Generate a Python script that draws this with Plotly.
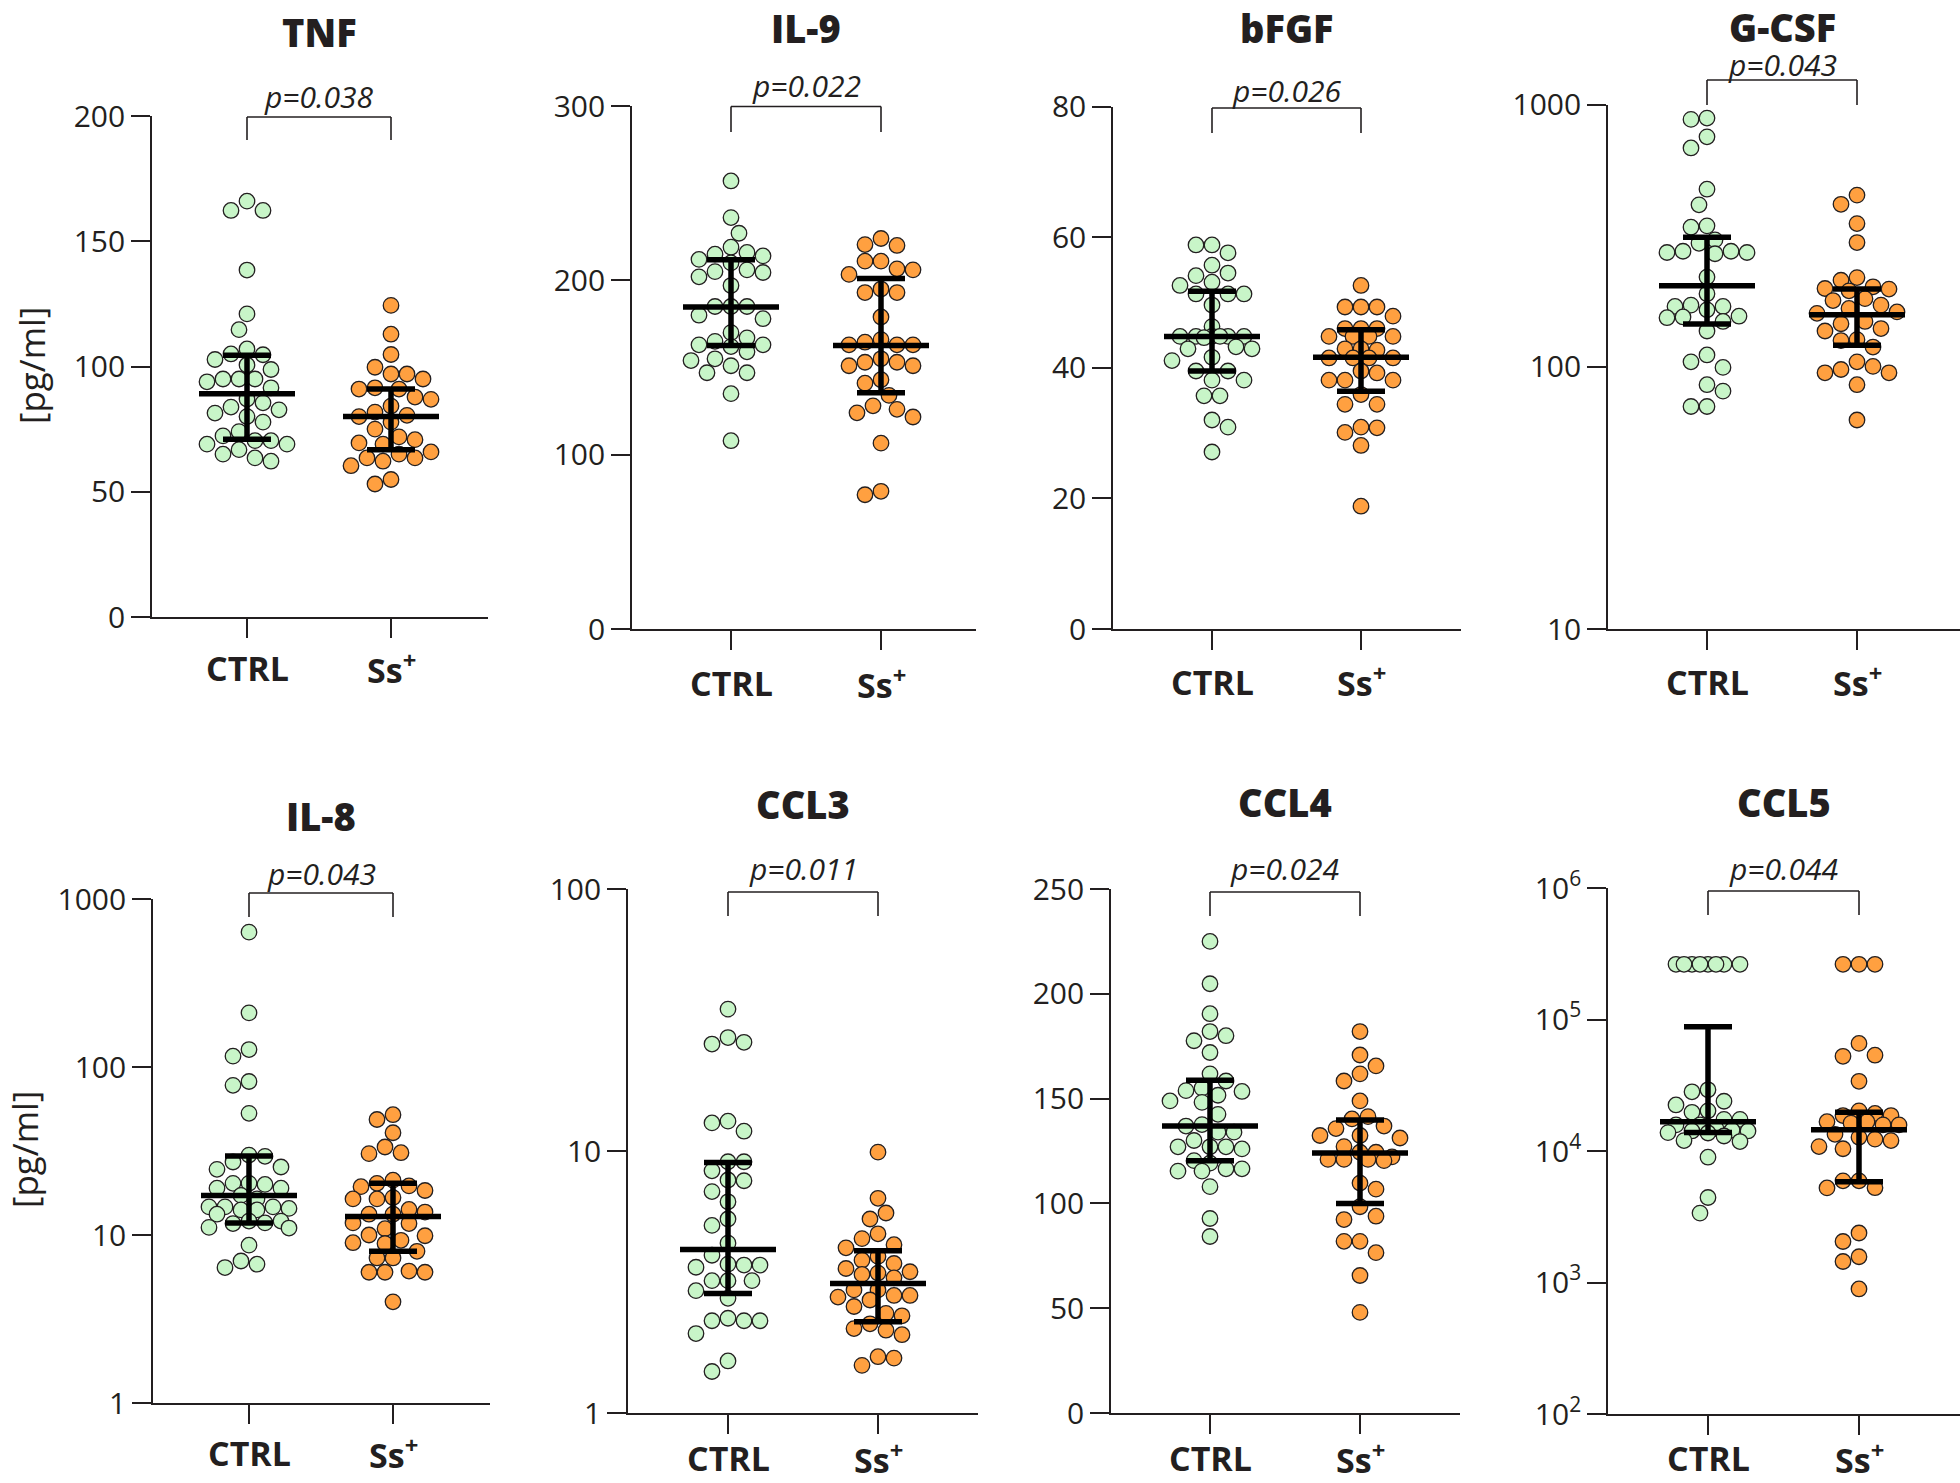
import numpy as np
import plotly.graph_objects as go

# ---------------- data ----------------
GROUPS = ["CTRL", "Ss<sup>+</sup>"]

TNF_CTRL = [166, 162.3, 162.3, 138.5, 121, 114.7, 107, 104.7, 102.8, 105, 100.6, 98.8, 95, 95, 95, 93.9,
            91.5, 87, 85.5, 83.8, 82.7, 81.4, 80, 77.8, 74, 72.3, 70.4, 69, 70.4, 69, 66.8, 65, 63.5, 62.2]
TNF_SS = [124.4, 112.9, 104.8, 99.7, 97, 97, 95, 91.5, 91, 91, 87.8, 86.9, 84.2, 81.8, 80.5, 80, 77.8, 75,
          71.9, 70.8, 69.5, 69, 65.9, 65, 63.5, 63.5, 62.2, 60.4, 54.9, 53.1]
TNF_MED, TNF_Q1, TNF_Q3 = [89.1, 80], [71, 66.8], [104.5, 91]

IL9_CTRL = [257, 236, 227, 219, 216, 214, 215, 212, 210, 206, 205, 204.5, 202, 197, 185, 185, 185, 180, 178,
            170, 167, 165, 163, 163, 162, 159, 155, 154, 151, 147, 147, 135, 108]
IL9_SS = [224, 220.5, 220, 211, 211, 206.6, 206, 203.4, 195, 193, 193, 179, 166, 164.5, 163, 163, 163, 155,
          153, 153, 151, 151, 143, 141, 134, 128, 126, 124, 121.6, 106.6, 79, 77]
IL9_MED, IL9_Q1, IL9_Q3 = [184.7, 162.6], [162.6, 135.5], [211.8, 201]

BFGF_CTRL = [58.8, 58.8, 57.6, 55.7, 54.5, 54.1, 53.1, 52.6, 51.3, 51.3, 51.3, 49.6, 46.3, 44.8, 44.8, 44.8,
             44.8, 44.8, 44.8, 44.6, 43.2, 42.9, 42.9, 41.6, 41.1, 39.5, 39.5, 38.1, 38.1, 35.7, 35.7, 32,
             30.9, 27.1]
BFGF_SS = [52.6, 49.3, 49.3, 49.3, 47.9, 46, 46, 46, 44.8, 44.8, 44.8, 44.8, 42.9, 42.9, 42.7, 41.5, 41.5,
           41.5, 41.5, 39.5, 39.2, 38.1, 38.1, 38.1, 35.9, 34.4, 34.4, 30.9, 30.8, 30.1, 28.1, 18.8]
BFGF_MED, BFGF_Q1, BFGF_Q3 = [44.8, 41.6], [39.5, 36.4], [51.7, 45.8]

GCSF_CTRL = [889, 879, 754, 684, 476, 415, 345, 341, 305, 296, 276, 273, 273, 270, 276, 220, 190, 172, 170,
             170, 165, 156, 155, 154, 149, 137, 111, 104.5, 99.5, 85.5, 80.8, 70.6, 70.6]
GCSF_SS = [452, 417, 352, 298, 219, 214, 202, 199, 198, 195, 182, 179, 172, 167, 162, 160, 149, 146, 140,
           137, 127, 126, 119, 104.5, 100.4, 97.7, 94.9, 94.9, 85.5, 62.7]
GCSF_MED, GCSF_Q1, GCSF_Q3 = [204, 158], [145.6, 121], [312, 198]

IL8_CTRL = [635, 210, 127, 116, 82, 77.8, 53, 29.9, 29.4, 27.2, 25.4, 24.6, 20.3, 20.3, 20, 19, 19, 17.2,
            16.4, 14.7, 14.7, 14.4, 14.1, 14.1, 14.7, 13.3, 12.1, 12.1, 11.8, 11.7, 11.1, 11, 8.7, 7.0, 6.7, 6.4]
IL8_SS = [52, 48.7, 40.6, 33.4, 30.9, 30.5, 21.2, 20.3, 19.6, 19.4, 18.4, 16.7, 16.4, 16.4, 14.2, 13.7, 13.3,
          13.3, 11.8, 11.7, 10.9, 10.0, 9.9, 9.3, 9.0, 8.9, 8.0, 7.3, 7.3, 6.1, 6.0, 6.0, 6.0, 4.0]
IL8_MED, IL8_Q1, IL8_Q3 = [17.2, 12.9], [11.8, 8.0], [29.5, 20.3]

CCL3_CTRL = [34.8, 27.1, 25.6, 26, 12.8, 13.0, 11.9, 9.1, 9.1, 8.4, 7.7, 7.75, 7.0, 6.4, 5.5, 5.2, 4.45, 4.0,
             3.67, 3.67, 3.7, 3.6, 3.2, 3.2, 3.2, 2.93, 2.74, 2.25, 2.3, 2.25, 2.25, 2.01, 1.58, 1.44]
CCL3_SS = [9.9, 6.6, 5.8, 5.5, 4.83, 4.63, 4.39, 4.27, 3.96, 3.83, 3.72, 3.56, 3.46, 3.42, 3.38, 3.28, 2.95,
           2.95, 2.81, 2.81, 2.77, 2.70, 2.55, 2.35, 2.40, 2.19, 2.10, 2.07, 1.99, 1.64, 1.62, 1.52]
CCL3_MED, CCL3_Q1, CCL3_Q3 = [4.21, 3.12], [2.86, 2.23], [9.03, 4.16]

CCL4_CTRL = [225, 204.8, 190.5, 182, 177.6, 180, 172, 161.8, 158.4, 155, 153.4, 153.8, 151.6, 148.9, 148.2,
             142.5, 137.6, 136.9, 134, 134, 130, 127, 127, 127, 126, 120.4, 119.2, 116.5, 116.5, 115.4, 115.4,
             108, 92.8, 84.2]
CCL4_SS = [182, 170.8, 165.6, 161.8, 158.4, 148.9, 141.4, 140.3, 136.9, 135.7, 132.4, 131.2, 132.4, 127.1,
           124.4, 124.4, 122.2, 121, 120.4, 121, 121, 109.7, 106.8, 98.4, 93.9, 92.3, 81.9, 81.9, 76.5, 65.6, 48]
CCL4_MED, CCL4_Q1, CCL4_Q3 = [136.9, 124], [120.4, 100], [158.8, 139.8]

CCL5_CTRL = [263000, 263000, 263000, 263000, 263000, 263000, 263000, 263000, 29200, 28200, 23900, 22400,
             20200, 19700, 17400, 17400, 15800, 15800, 14800, 14200, 14200, 13800, 14400, 13700, 13000, 12000,
             11800, 8970, 4430, 3370]
CCL5_SS = [263000, 263000, 263000, 65800, 53500, 52500, 33900, 20200, 18600, 18600, 19300, 16700, 16700,
           16300, 15800, 15800, 13400, 12700, 12300, 12000, 10800, 10400, 5930, 5930, 5240, 5260, 2380, 2050,
           1570, 1445, 893]
CCL5_MED, CCL5_Q1, CCL5_Q3 = [16700, 14500], [13800, 5840], [87900, 19700]

P_TEXT = ["p=0.038", "p=0.022", "p=0.026", "p=0.043", "p=0.043", "p=0.011", "p=0.024", "p=0.044"]
TITLES = ["TNF", "IL-9", "bFGF", "G-CSF", "IL-8", "CCL3", "CCL4", "CCL5"]

# ---------------- styling / layout (pixels of the 1960x1483 page) ----------------
W, H = 1960, 1483
GREEN, ORANGE, INK = "#c8f5c8", "#ffa040", "#231f20"
FONT = "Open Sans"
DOT = 15.5
MED_HALF, CAP_HALF = 48, 24

panels = [
    dict(ctrl=TNF_CTRL, ss=TNF_SS, med=TNF_MED, q1=TNF_Q1, q3=TNF_Q3, log=False, rng=(0, 200),
         tv=[0, 50, 100, 150, 200], tt=None,
         g=dict(x0=152, x1=488, yt=116, yb=617, cx=247, sx=391, ty=32, py=97, by=117, ly=140, lab=668)),
    dict(ctrl=IL9_CTRL, ss=IL9_SS, med=IL9_MED, q1=IL9_Q1, q3=IL9_Q3, log=False, rng=(0, 300),
         tv=[0, 100, 200, 300], tt=None,
         g=dict(x0=632, x1=976, yt=106, yb=629, cx=731, sx=881, ty=28, py=86, by=106.5, ly=132, lab=683)),
    dict(ctrl=BFGF_CTRL, ss=BFGF_SS, med=BFGF_MED, q1=BFGF_Q1, q3=BFGF_Q3, log=False, rng=(0, 80),
         tv=[0, 20, 40, 60, 80], tt=None,
         g=dict(x0=1113, x1=1461, yt=106.5, yb=629, cx=1212, sx=1361, ty=28, py=90, by=108, ly=133, lab=682)),
    dict(ctrl=GCSF_CTRL, ss=GCSF_SS, med=GCSF_MED, q1=GCSF_Q1, q3=GCSF_Q3, log=True, rng=(1, 3),
         tv=[10, 100, 1000], tt=["10", "100", "1000"],
         g=dict(x0=1608, x1=1960, yt=104.7, yb=629, cx=1707, sx=1857, ty=27, py=65, by=80, ly=105, lab=682)),
    dict(ctrl=IL8_CTRL, ss=IL8_SS, med=IL8_MED, q1=IL8_Q1, q3=IL8_Q3, log=True, rng=(0, 3),
         tv=[1, 10, 100, 1000], tt=["1", "10", "100", "1000"],
         g=dict(x0=153, x1=490, yt=899, yb=1403, cx=249, sx=393, ty=816, py=873, by=893, ly=917, lab=1453)),
    dict(ctrl=CCL3_CTRL, ss=CCL3_SS, med=CCL3_MED, q1=CCL3_Q1, q3=CCL3_Q3, log=True, rng=(0, 2),
         tv=[1, 10, 100], tt=["1", "10", "100"],
         g=dict(x0=628, x1=978, yt=889, yb=1413, cx=728, sx=878, ty=804, py=868, by=892, ly=916, lab=1458)),
    dict(ctrl=CCL4_CTRL, ss=CCL4_SS, med=CCL4_MED, q1=CCL4_Q1, q3=CCL4_Q3, log=False, rng=(0, 250),
         tv=[0, 50, 100, 150, 200, 250], tt=None,
         g=dict(x0=1111, x1=1460, yt=889, yb=1413, cx=1210, sx=1360, ty=802, py=869, by=892, ly=916, lab=1458)),
    dict(ctrl=CCL5_CTRL, ss=CCL5_SS, med=CCL5_MED, q1=CCL5_Q1, q3=CCL5_Q3, log=True, rng=(2, 6),
         tv=[1e2, 1e3, 1e4, 1e5, 1e6], tt=["10<sup>2</sup>", "10<sup>3</sup>", "10<sup>4</sup>",
                                           "10<sup>5</sup>", "10<sup>6</sup>"],
         g=dict(x0=1608, x1=1960, yt=888, yb=1414, cx=1708, sx=1859, ty=802, py=868, by=891, ly=915, lab=1458)),
]


def swarm(ypx, d=16.0, maxhalf=41, step=8.0):
    """Greedy bee-swarm: horizontal pixel offsets so dots do not overlap."""
    ypx = np.asarray(ypx, float)
    order = np.argsort(-ypx, kind="stable")
    px, py = [], []
    off = np.zeros(len(ypx))
    nmax = int(maxhalf // step)
    for n, i in enumerate(order):
        cands = [0.0]
        for k in range(1, nmax + 1):
            cands += [k * step, -k * step] if n % 2 == 0 else [-k * step, k * step]
        best, bestc, bestd = None, 0.0, -1
        for c in cands:
            dist = np.min(np.hypot(np.array(px) - c, np.array(py) - ypx[i])) if px else np.inf
            if dist >= d - 0.01:
                best = c
                break
            if dist > bestd:
                bestd, bestc = dist, c
        if best is None:
            best = bestc
        off[i] = best
        px.append(best)
        py.append(ypx[i])
    return off


fig = go.Figure()
annotations, shapes = [], []
layout_axes = {}

for k, p in enumerate(panels):
    g = p["g"]
    sfx = "" if k == 0 else str(k + 1)
    xa, ya = "x" + sfx, "y" + sfx
    sp = g["sx"] - g["cx"]
    hpx = g["yb"] - g["yt"]
    lo, hi = p["rng"]

    def to_px(vals):
        v = np.asarray(vals, float)
        t = np.log10(v) if p["log"] else v
        return (t - lo) / (hi - lo) * hpx

    for gi, (vals, col) in enumerate([(p["ctrl"], GREEN), (p["ss"], ORANGE)]):
        off = swarm(to_px(vals))
        fig.add_trace(go.Scatter(
            x=gi + off / sp, y=vals, mode="markers", xaxis=xa, yaxis=ya, cliponaxis=False,
            marker=dict(size=DOT, color=col, line=dict(color=INK, width=1.3)),
            showlegend=False, hoverinfo="y"))
    for gi in range(2):
        mh, ch = MED_HALF / sp, CAP_HALF / sp
        m, a, b = p["med"][gi], p["q1"][gi], p["q3"][gi]
        fig.add_trace(go.Scatter(
            x=[gi - mh, gi + mh, None, gi, gi, None, gi - ch, gi + ch, None, gi - ch, gi + ch],
            y=[m, m, None, a, b, None, b, b, None, a, a],
            mode="lines", xaxis=xa, yaxis=ya, line=dict(color="black", width=5.5),
            showlegend=False, hoverinfo="skip"))

    xr = [(g["x0"] - g["cx"]) / sp, (g["x1"] - g["cx"]) / sp]
    layout_axes["xaxis" + sfx] = dict(
        domain=[g["x0"] / W, g["x1"] / W], range=xr, anchor=ya, showline=True, linecolor=INK,
        linewidth=1.6, ticks="outside", ticklen=19, tickwidth=1.6, tickcolor=INK, tickvals=[0, 1],
        showticklabels=False, showgrid=False, zeroline=False, fixedrange=True, automargin=False)
    yax = dict(
        domain=[1 - g["yb"] / H, 1 - g["yt"] / H], range=[lo, hi], anchor=xa, showline=True,
        linecolor=INK, linewidth=1.6, ticks="outside", ticklen=19, tickwidth=1.6, tickcolor=INK,
        tickvals=p["tv"], showgrid=False, zeroline=False, fixedrange=True, ticklabelstandoff=0,
        automargin=False, tickfont=dict(family=FONT, size=30, color=INK))
    if p["log"]:
        yax["type"] = "log"
    if p["tt"]:
        yax["ticktext"] = p["tt"]
    layout_axes["yaxis" + sfx] = yax

    mid = (g["cx"] + g["sx"]) / 2
    annotations.append(dict(text=TITLES[k], x=mid / W, y=1 - g["ty"] / H, xref="paper",
                            yref="paper", xanchor="center", yanchor="middle", showarrow=False,
                            font=dict(family=FONT, size=38, color=INK, weight=800)))
    annotations.append(dict(text="<i>%s</i>" % P_TEXT[k], x=mid / W, y=1 - g["py"] / H, xref="paper",
                            yref="paper", xanchor="center", yanchor="middle", showarrow=False,
                            font=dict(family=FONT, size=30, color=INK)))
    for gi, lbl in enumerate(GROUPS):
        annotations.append(dict(text=lbl, x=gi, xref=xa, y=1 - g["lab"] / H, yref="paper",
                                xanchor="center", yanchor="middle", showarrow=False,
                                font=dict(family=FONT, size=34, color=INK, weight=700)))
    # significance bracket
    bx0, bx1 = g["cx"] / W, g["sx"] / W
    byy, bly = 1 - g["by"] / H, 1 - g["ly"] / H
    for (xa0, ya0, xa1, ya1) in [(bx0, bly, bx0, byy), (bx0, byy, bx1, byy), (bx1, byy, bx1, bly)]:
        shapes.append(dict(type="line", xref="paper", yref="paper", x0=xa0, y0=ya0, x1=xa1, y1=ya1,
                           line=dict(color=INK, width=1.6)))

for yc, xc in [(365, 31), (1150, 24)]:
    annotations.append(dict(text="[pg/ml]", x=xc / W, y=1 - yc / H, xref="paper", yref="paper",
                            xanchor="center", yanchor="middle", textangle=-90, showarrow=False,
                            font=dict(family=FONT, size=35, color=INK)))

fig.update_layout(
    template="none", width=W, height=H, margin=dict(l=0, r=0, t=0, b=0, pad=0, autoexpand=False),
    paper_bgcolor="white", plot_bgcolor="white",
    showlegend=False, annotations=annotations, shapes=shapes, **layout_axes)

PIN = ("var d=document.getElementById('{plot_id}');d.style.position='absolute';"
       "d.style.left='0px';d.style.top='0px';document.body.style.margin='0';"
       "document.body.style.overflow='hidden';")
fig.write_html("out.html", post_script=PIN, config={"displayModeBar": False})
